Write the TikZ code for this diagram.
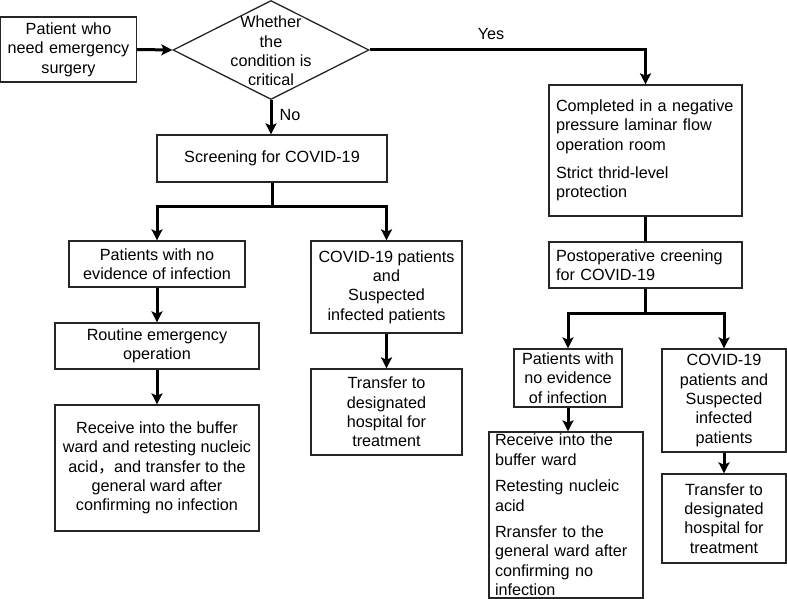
\documentclass[tikz,border=0pt]{standalone}
\usepackage{fontspec}
\setmainfont{Liberation Sans}
\newfontfamily\cjkfont{Noto Sans CJK SC}
\usetikzlibrary{arrows.meta,shapes.geometric}
\tikzset{
  box/.style={draw=black!85, line width=0.65pt, inner sep=0pt, align=center,
    font=\fontsize{8.1}{9.7}\selectfont},
  lbox/.style={box, align=left},
  arr/.style={line width=1.5pt, -{Stealth[length=5.5pt,width=5.5pt,inset=1.2pt]}},
  conn/.style={line width=1.5pt},
  lbl/.style={inner sep=0pt, font=\fontsize{8.1}{9.7}\selectfont, align=center}
}
\begin{document}
\begin{tikzpicture}[x=0.5pt,y=-0.5pt]
\useasboundingbox (0,0) rectangle (787,599);
% left part
\node[box, minimum width=68pt, minimum height=32.5pt, text width=64pt] (start) at (68.5,49.5)
  {Patient who\\need emergency\\surgery};
\node[draw=black!85, line width=0.65pt, diamond, minimum width=98pt, minimum height=49.5pt, inner sep=0pt] (dec) at (271,50) {};
\node[lbl] (dtext) at (271,51) {Whether\\the\\condition is\\critical};
\node[box, minimum width=115pt, minimum height=23.5pt] (screen) at (272,158.5) {Screening for COVID-19};
\node[box, minimum width=88pt, minimum height=23pt] (L1) at (157,264) {Patients with no\\evidence of infection};
\node[box, minimum width=75.5pt, minimum height=46pt] (R1) at (386.5,287) {COVID-19 patients\\and\\Suspected\\infected patients};
\node[box, minimum width=102pt, minimum height=23pt] (L2) at (157,346) {Routine emergency\\operation};
\node[box, minimum width=102pt, minimum height=63pt] (L3) at (157,468)
  {Receive into the buffer\\ward and retesting nucleic\\acid{\cjkfont ，}and transfer to the\\general ward after\\confirming no infection};
\node[box, minimum width=75.5pt, minimum height=43pt] (R2) at (386.5,412) {Transfer to\\designated\\hospital for\\treatment};
% right part
\node[lbox, minimum width=96.5pt, minimum height=65.5pt, text width=89.5pt] (C1) at (645.5,150.5)
  {Completed in a negative\\pressure laminar flow\\operation room\\[4.5pt]Strict thrid-level\\protection};
\node[lbox, minimum width=96.5pt, minimum height=23pt, text width=89.5pt] (C2) at (645.5,265)
  {Postoperative creening\\for COVID-19};
\node[box, minimum width=54pt, minimum height=29pt] (P1) at (568,378) {Patients with\\no evidence\\of infection};
\node[box, minimum width=62pt, minimum height=51.5pt] (P2) at (724,400.5) {COVID-19\\patients and\\Suspected\\infected\\patients};
\node[lbox, minimum width=77pt, minimum height=83pt, text width=71pt] (P3) at (566,515)
  {Receive into the\\buffer ward\\[3.5pt]Retesting nucleic\\acid\\[3.5pt]Rransfer to the\\general ward after\\confirming no\\infection};
\node[box, minimum width=62pt, minimum height=44.5pt] (P4) at (724,518.5) {Transfer to\\designated\\hospital for\\treatment};
% connectors
\draw[arr] (start.east) -- (dec.west);
\draw[arr] (dec.south) -- (dec.south |- screen.north);
\node[lbl] (no) at (290,115) {No};
\draw[arr] (dec.east) -| (C1.north);
\node[lbl] (yes) at (491,34) {Yes};
\coordinate (split1) at (272,206);
\draw[conn] (screen.south) -- (split1);
\draw[arr] (split1) -| (L1.north);
\draw[arr] (split1) -| (R1.north);
\draw[arr] (L1.south) -- (L2.north);
\draw[arr] (L2.south) -- (L3.north);
\draw[arr] (R1.south) -- (R2.north);
\draw[conn] (C1.south) -- (C2.north);
\coordinate (split2) at (645.5,313);
\draw[conn] (C2.south) -- (split2);
\draw[arr] (split2) -| (P1.north);
\draw[arr] (split2) -| (P2.north);
\draw[arr] (P1.south) -- (P1.south |- P3.north);
\draw[arr] (P2.south) -- (P4.north);
\end{tikzpicture}
\end{document}
